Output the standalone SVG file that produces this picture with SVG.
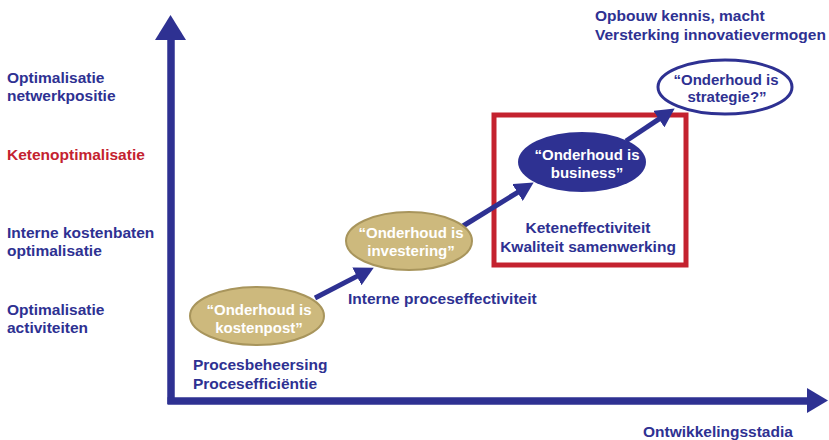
<svg xmlns="http://www.w3.org/2000/svg" width="829" height="440" viewBox="0 0 829 440">
<style>
text{font-family:"Liberation Sans",Arial,sans-serif;font-weight:bold;font-size:15.5px}
.b{fill:#2e3192}
.r{fill:#c4222f}
.w{fill:#ffffff;font-size:15px;text-anchor:middle}
.wb{fill:#2e3192;font-size:15px;text-anchor:middle}
.k{fill:#cdb97d;stroke:#a8955c;stroke-width:2}
.conn{stroke:#2e3192;stroke-width:5;fill:none;marker-end:url(#ah)}
</style>
<defs>
<marker id="ah" markerUnits="userSpaceOnUse" markerWidth="19" markerHeight="20" refX="3" refY="9.5" orient="auto" viewBox="0 0 18 19">
<path d="M0,0 L18,9.5 L0,19 Z" fill="#2e3192"/>
</marker>
</defs>
<rect width="829" height="440" fill="#ffffff"/>
<g id="axes">
<line x1="171" y1="404" x2="171" y2="36" stroke="#2e3192" stroke-width="7.5"/>
<polygon points="155,40 170.5,15 186,40" fill="#2e3192"/>
<line x1="167.5" y1="401" x2="810" y2="401" stroke="#2e3192" stroke-width="7.5"/>
<polygon points="807,388 828,400.5 807,413" fill="#2e3192"/>
</g>
<g id="y-labels">
<text class="b" x="7" y="83">Optimalisatie</text>
<text class="b" x="7" y="101">netwerkpositie</text>
<text class="r" x="7" y="160">Ketenoptimalisatie</text>
<text class="b" x="7" y="238">Interne kostenbaten</text>
<text class="b" x="7" y="256">optimalisatie</text>
<text class="b" x="7" y="315">Optimalisatie</text>
<text class="b" x="7" y="333">activiteiten</text>
<text class="b" x="643" y="437">Ontwikkelingsstadia</text>
</g>
<g id="ketenbox">
<rect x="494" y="115" width="192" height="150" fill="none" stroke="#c4222f" stroke-width="5"/>
</g>
<g id="connectors">
<line class="conn" x1="315" y1="298" x2="359.7" y2="274.9"/>
<line class="conn" x1="463" y1="226" x2="520.2" y2="190.8"/>
<line class="conn" x1="626" y1="141" x2="661.5" y2="117.3"/>
</g>
<g id="node-kostenpost">
<ellipse class="k" cx="257" cy="316" rx="67" ry="29"/>
<text class="w" x="259" y="315">“Onderhoud is</text>
<text class="w" x="259" y="333">kostenpost”</text>
<text class="b" x="193" y="370">Procesbeheersing</text>
<text class="b" x="193" y="389">Procesefficiëntie</text>
</g>
<g id="node-investering">
<ellipse class="k" cx="409" cy="241" rx="63" ry="29"/>
<text class="w" x="411" y="238">“Onderhoud is</text>
<text class="w" x="411" y="256">investering”</text>
<text class="b" x="348" y="304">Interne proceseffectiviteit</text>
</g>
<g id="node-business">
<ellipse cx="582" cy="162" rx="64" ry="30" fill="#2e3192"/>
<text class="w" x="587" y="160">“Onderhoud is</text>
<text class="w" x="587" y="178">business”</text>
<text class="b" x="588" y="233" text-anchor="middle">Keteneffectiviteit</text>
<text class="b" x="588" y="252" text-anchor="middle">Kwaliteit samenwerking</text>
</g>
<g id="node-strategie">
<ellipse cx="725" cy="87" rx="67" ry="27" fill="#ffffff" stroke="#2e3192" stroke-width="3"/>
<text class="wb" x="726" y="85">“Onderhoud is</text>
<text class="wb" x="727" y="102">strategie?”</text>
<text class="b" x="595" y="21">Opbouw kennis, macht</text>
<text class="b" x="595" y="40">Versterking innovatievermogen</text>
</g>
</svg>
